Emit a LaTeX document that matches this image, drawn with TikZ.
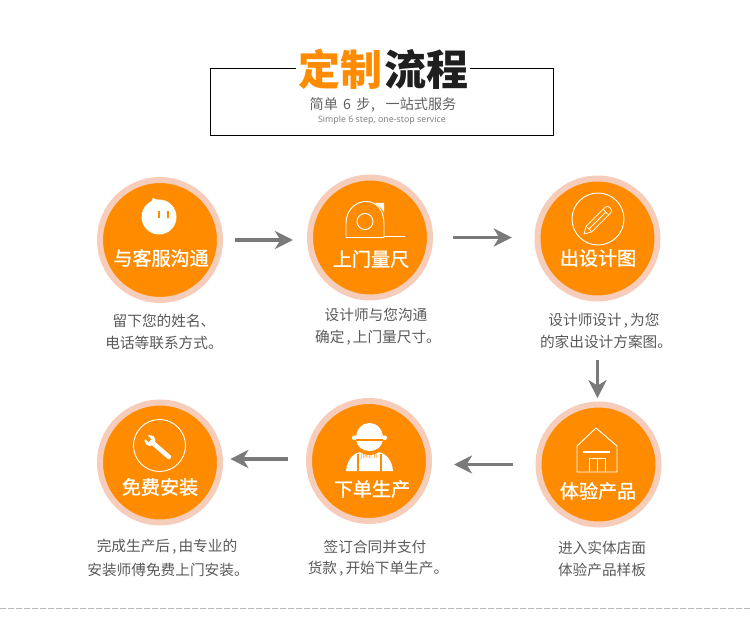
\documentclass[tikz,border=0pt]{standalone}
\usepackage{fontspec}
\setmainfont{Noto Sans CJK SC}
\newfontfamily\latinfont{Noto Sans}
\newfontfamily\labfont[FakeBold=1.1]{Noto Sans CJK SC}
\usetikzlibrary{arrows.meta}
\definecolor{orng}{HTML}{FF8C00}
\definecolor{pnk}{HTML}{F6CDBB}
\definecolor{arrgray}{HTML}{7A7A7A}
\newcommand{\cma}{\hspace{.15em},\hspace{.15em}}
\tikzset{
  stepdisk/.style={circle,fill=orng,draw=pnk,line width=4.5pt,minimum size=90pt,inner sep=0pt},
  lab/.style={text=white,font=\labfont\fontsize{14.3pt}{16pt}\selectfont,inner sep=0pt},
  desc/.style={text=black!65,font=\fontsize{11pt}{13pt}\selectfont,inner sep=0pt},
  ttl/.style={fill=white,font=\fontsize{31.5pt}{36pt}\selectfont\bfseries,inner xsep=1.5pt,inner ysep=0pt},
  arr/.style={draw=arrgray,line width=2.4pt,-{Stealth[length=13.5pt,width=13.5pt,inset=4pt]}},
  ico/.style={draw=white,line width=.7pt},
}
\begin{document}
\begin{tikzpicture}[x=0.75pt,y=-0.75pt]
\useasboundingbox (0,0) rectangle (750,620);
% heading
\draw[black,line width=.75pt] (210.5,68.5) rectangle (553.5,135.5);
\node[ttl,text=orng] (ti1) at (340,69) {定制};
\node[ttl,text=black!88] (ti2) at (426,69) {流程};
\node[text=black!62,font=\fontsize{10.6pt}{12pt}\selectfont,inner sep=0pt] (sub) at (383,105) {简单\hspace{.15em} 6 \hspace{.15em}步\hspace{.05em},\hspace{.75em}一站式服务};
\node[text=black!50,font=\latinfont\fontsize{6.6pt}{8pt}\selectfont,inner sep=0pt] (sube) at (382,120) {Simple 6 step, one-stop service};
% circles
\foreach \n/\x/\y in {c1/160/240,c2/370/237.5,c3/597.5/238.5,c4/598.5/464.5,c5/369/461,c6/160/462.5}{
  \node[stepdisk] (\n) at (\x,\y) {};
}
% labels
\foreach \n/\x/\y/\t in {l1/161/258/与客服沟通,l2/371/259/上门量尺,l3/598/258/出设计图,l4/598/491/体验产品,l5/372/489/下单生产,l6/160/487/免费安装}{
  \node[lab] (\n) at (\x,\y) {\t};
}
% texts under the circles
\foreach \n/\x/\y/\t in {d1/164/321/留下您的姓名、,d2/164/343/电话等联系方式。,d3/376/315/设计师与您沟通,d4/378/338/{确定\cma 上门量尺寸。},d5/604/321/{设计师设计\cma 为您},d6/606/342/的家出设计方案图。,d7/602/548/进入实体店面,d8/602/570/体验产品样板,d9/375/547/签订合同并支付,d10/378/569/{货款\cma 开始下单生产。},d11/167/547/{完成生产后\cma 由专业的},d12/168/570/安装师傅免费上门安装。}{
  \node[desc] (\n) at (\x,\y) {\t};
}
% arrows
\draw[arr,shorten <=9pt,shorten >=10.5pt] (c1) -- (c1 -| c2.west);
\draw[arr,shorten <=15pt,shorten >=17pt] (c2) -- (c2 -| c3.west);
\draw[arr,shorten <=44pt,shorten >=2.5pt] (c3.south) -- (c3.south |- c4.north);
\draw[arr,shorten <=17pt,shorten >=16.5pt] (c4.west) -- (c4.west -| c5.east);
\draw[arr,shorten <=13.5pt,shorten >=5.5pt] ([yshift=1.5pt]c5.west) -- ([yshift=1.5pt]c5.west -| c6.east);
% chat face
\begin{scope}[shift={(c1.center)}]
\fill[white] (-1,-23) circle (17.5);
\fill[white] (-7,-42) .. controls (-3,-40) and (2,-39) .. (5,-38) -- (-9,-36) .. controls (-9,-38) and (-8,-40) .. cycle;
\draw[orng,line width=2pt] (-1,-28.5) -- (-1,-22) (8,-28.5) -- (8,-22);
\end{scope}
% tape measure
\begin{scope}[shift={(c2.center)}]
\draw[ico] (-24,0) -- (-24,-14) .. controls (-24,-28) and (-14,-36) .. (-4,-36) .. controls (6,-36) and (14,-28) .. (14,-14) -- (14,0) -- cycle;
\draw[ico] (14,-1) -- (35,-1);
\draw[ico] (-5,-16) circle (8);
\fill[white] (5,-34.5) -- (14,-34.5) -- (14,-25) .. controls (12,-29) and (9,-32) .. cycle;
\end{scope}
% pencil
\begin{scope}[shift={(c3.center)}]
\draw[ico] (0.5,-19.5) circle (26);
\begin{scope}[shift={(-13.5,-4.5)},rotate=45]
\draw[white,line width=.55pt] (0,0) -- (7,-4) -- (34,-4) .. controls (38,-4) and (38,4) .. (34,4) -- (7,4) -- cycle;
\draw[white,line width=.55pt] (7,-4) -- (7,4) (7,0) -- (31,0) (31,-4) -- (31,4);
\end{scope}
\end{scope}
% house
\begin{scope}[shift={(c4.center)}]
\draw[ico] (-21.5,7.5) -- (-21.5,-18.5) -- (-2.5,-36.5) -- (18.5,-18.5) -- (18.5,7.5) -- cycle;
\draw[white,line width=1.2pt] (-15.5,-12.5) -- (11.5,-12.5);
\draw[white,line width=.6pt] (-9.5,7.5) -- (-9.5,-6.5) -- (6.5,-6.5) -- (6.5,7.5) (-1.5,-6.5) -- (-1.5,7.5);
\end{scope}
% worker
\begin{scope}[shift={(c5.center)}]
\fill[white] (-23,10) .. controls (-22,-1) and (-16,-8) .. (-8,-9) -- (9,-9) .. controls (17,-8) and (23,-1) .. (24,10) -- cycle;
\fill[orng] (0.5,-21) ellipse (16 and 15);
\fill[white] (-13,-21) .. controls (-12,-14) and (-6,-10) .. (0.5,-10) .. controls (7,-10) and (13,-14) .. (14,-21) -- cycle;
\fill[white] (-13,-22) .. controls (-13,-33) and (-6,-38) .. (0.5,-38) .. controls (7,-38) and (14,-33) .. (14,-22) -- cycle;
\fill[white,rounded corners=1.5pt] (-17,-25.5) rectangle (18,-21);
\draw[orng,line width=.8pt] (-13,-21) -- (14,-21);
\fill[white] (-11,-6.5) rectangle (12,10);
\draw[orng,line width=.8pt] (-11,-7) -- (-11,10) (12,-7) -- (12,10);
\node[text=orng,font=\latinfont\bfseries\fontsize{4.2pt}{5pt}\selectfont,inner sep=0pt] (logo) at (0.5,-4) {JPFE H};
\end{scope}
% wrench
\begin{scope}[shift={(c6.center)}]
\draw[ico] (-0.5,-17) circle (26);
\begin{scope}[shift={(-10,-22)},rotate=-41]
\draw[white,line width=3.4pt,line cap=round] (4,0) -- (25,0);
\fill[white] (0,0) circle (5.5);
\fill[orng] (-6,-2) -- (0,-2) -- (0,2) -- (-6,2) -- cycle;
\end{scope}
\end{scope}
% bottom rule
\draw[black!28,line width=.75pt,dash pattern=on 4.5pt off 1.5pt] (0,608) -- (750,608);
\end{tikzpicture}
\end{document}
